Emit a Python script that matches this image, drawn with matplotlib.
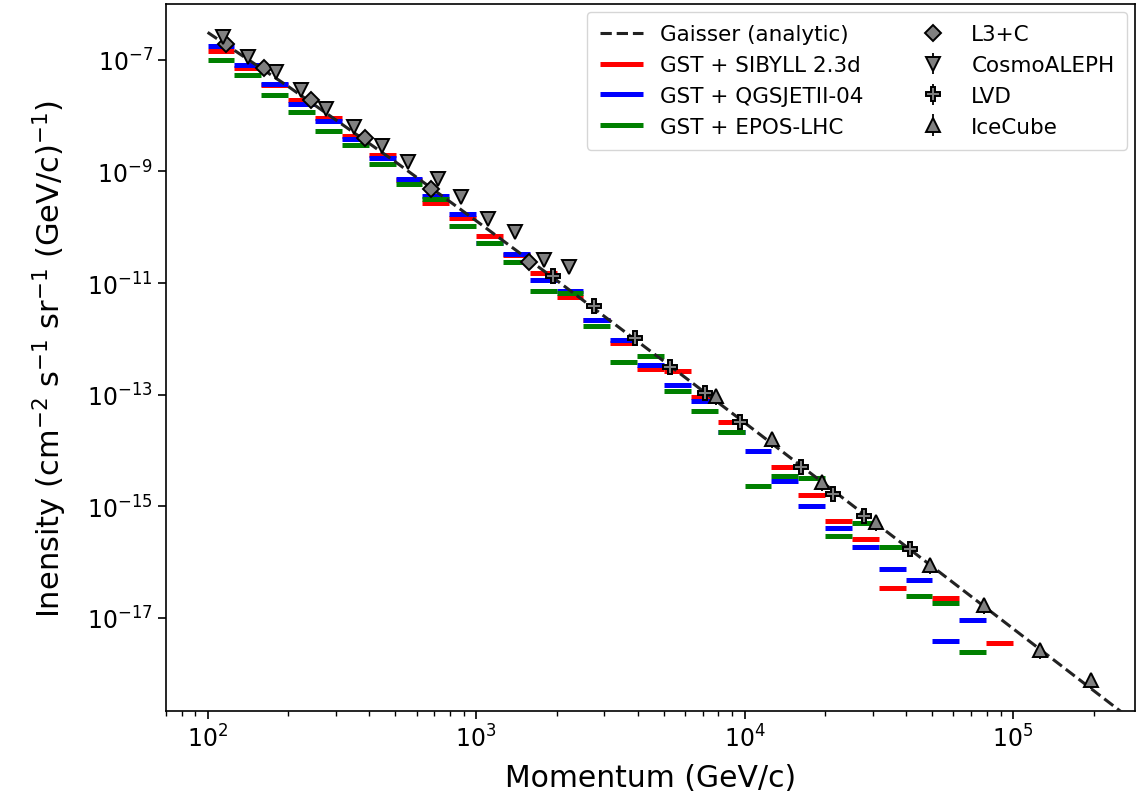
import numpy as np
import matplotlib
matplotlib.use("Agg")
import matplotlib.pyplot as plt
from matplotlib.ticker import LogLocator, NullLocator, NullFormatter

# Momentum bin edges (0.1 decade bins from 100 GeV/c to 100 TeV/c)
bin_edges = np.logspace(2, 5, 31)

# Simulated intensities per bin, cm^-2 s^-1 sr^-1 (GeV/c)^-1 (nan = no entry)
sibyll = [1.45e-7, 7.19e-8, 3.56e-8, 1.92e-8, 9.14e-9, 4.35e-9, 1.98e-9, 7.07e-10,
          2.74e-10, 1.47e-10, 7.01e-11, 3.20e-11, 1.52e-11, 5.66e-12, 2.19e-12,
          8.48e-13, 2.90e-13, 2.67e-13, 9.14e-14, 3.26e-14, np.nan, 5.08e-15,
          1.60e-15, 5.47e-16, 2.61e-16, 3.45e-17, np.nan, 2.28e-17, np.nan, 3.56e-18]
qgsjet = [1.78e-7, 8.13e-8, 3.72e-8, 1.63e-8, 8.07e-9, 3.84e-9, 1.75e-9, 7.37e-10,
          3.66e-10, 1.74e-10, 5.25e-11, 3.34e-11, 1.14e-11, 7.25e-12, 2.19e-12,
          9.59e-13, 3.42e-13, 1.50e-13, 7.74e-14, 2.15e-14, 9.84e-15, 2.85e-15,
          1.02e-15, 4.10e-16, 1.87e-16, 7.55e-17, 4.80e-17, 3.87e-18, 9.20e-18, np.nan]
epos = [1.00e-7, 5.38e-8, 2.36e-8, 1.17e-8, 5.34e-9, 3.00e-9, 1.37e-9, 6.00e-10,
        3.23e-10, 1.06e-10, 5.25e-11, 2.40e-11, 7.25e-12, 6.67e-12, 1.71e-12,
        3.87e-13, 4.95e-13, 1.17e-13, 5.13e-14, 2.15e-14, 2.32e-15, 3.51e-15,
        3.23e-15, 2.95e-16, 5.04e-16, 1.87e-16, 2.48e-17, 1.86e-17, 2.46e-18, np.nan]

# Gaisser analytic vertical muon spectrum, tabulated
gaisser_p = [1e2, 2e2, 5e2, 1e3, 2e3, 5e3, 1e4, 2e4, 5e4, 1e5, 3e5]
gaisser_i = [3.10e-7, 3.31e-8, 1.49e-9, 1.31e-10, 1.11e-11, 3.99e-13, 3.16e-14,
             2.46e-15, 8.36e-17, 6.46e-18, 1.11e-19]

# Measurements
l3c_p = [117, 162, 242, 387, 677, 1570]
l3c_i = [1.94e-7, 7.19e-8, 1.92e-8, 4.00e-9, 4.88e-10, 2.40e-11]

aleph_p = [114, 141, 180, 222, 277, 350, 445, 557, 720, 878, 1110, 1400, 1790, 2210]
aleph_i = [2.58e-7, 1.13e-7, 6.10e-8, 2.90e-8, 1.32e-8, 6.30e-9, 2.88e-9, 1.49e-9,
           7.36e-10, 3.51e-10, 1.42e-10, 8.28e-11, 2.61e-11, 1.95e-11]

lvd_p = [1928, 2741, 3894, 5297, 7155, 9662, 16300, 21440, 27980, 41500]
lvd_i = [1.35e-11, 3.90e-12, 1.04e-12, 3.15e-13, 1.08e-13, 3.26e-14, 5.08e-15,
         1.67e-15, 6.73e-16, 1.73e-16]

icecube_p = [7800, 12700, 19500, 31000, 49300, 78300, 125600, 194600]
icecube_i = [9.50e-14, 1.61e-14, 2.73e-15, 5.25e-16, 8.91e-17, 1.71e-17,
             2.67e-18, 7.74e-19]

plt.rcParams["font.family"] = ["DejaVu Sans"]

fig = plt.figure(figsize=(11.42, 8.03), dpi=100)
ax = fig.add_axes([0.1454, 0.1133, 0.8485, 0.8805])
ax.set_xscale("log")
ax.set_yscale("log")

ax.plot(gaisser_p, gaisser_i, ls="--", color="#222222", lw=2.2, zorder=3,
        label="Gaisser (analytic)")

lo, hi = bin_edges[:-1], bin_edges[1:]
for vals, col, lab in [(sibyll, "red", "GST + SIBYLL 2.3d"),
                       (qgsjet, "blue", "GST + QGSJETII-04"),
                       (epos, "green", "GST + EPOS-LHC")]:
    v = np.asarray(vals, dtype=float)
    ok = np.isfinite(v)
    ax.hlines(v[ok], lo[ok], hi[ok], colors=col, lw=3.6, zorder=2, label=lab)

mk = dict(ls="none", mfc="gray", mec="black", mew=1.4, zorder=4)
eb = dict(ecolor="black", elinewidth=1.3, capsize=0)
ax.plot(l3c_p, l3c_i, marker="D", ms=8, label="L3+C", **mk)
ax.errorbar(aleph_p, aleph_i, yerr=0.25 * np.asarray(aleph_i), marker="v", ms=10,
            label="CosmoALEPH", **mk, **eb)
ax.errorbar(lvd_p, lvd_i, yerr=0.2 * np.asarray(lvd_i), marker="P", ms=10,
            label="LVD", **mk, **eb)
ax.errorbar(icecube_p, icecube_i, yerr=0.3 * np.asarray(icecube_i), marker="^", ms=10,
            label="IceCube", **mk, **eb)

ax.set_xlim(70, 2.85e5)
ax.set_ylim(2.15e-19, 1e-6)

ax.set_yticks([10.0 ** e for e in range(-17, -6, 2)])
ax.yaxis.set_minor_locator(NullLocator())
ax.xaxis.set_major_locator(LogLocator(base=10, numticks=10))
ax.xaxis.set_minor_locator(LogLocator(base=10, subs=np.arange(2, 10), numticks=20))
ax.xaxis.set_minor_formatter(NullFormatter())

ax.tick_params(which="major", labelsize=17, length=6, width=1.2)
ax.tick_params(which="minor", length=3.5, width=1.0)
for s in ax.spines.values():
    s.set_linewidth(1.2)

ax.set_xlabel("Momentum (GeV/c)", fontsize=21.5, labelpad=8)
ax.set_ylabel(r"Inensity (cm$^{-2}$ s$^{-1}$ sr$^{-1}$ (GeV/c)$^{-1}$)", fontsize=22,
              labelpad=13)

ax.legend(loc="upper right", ncol=2, fontsize=15.5, handlelength=2.0,
          columnspacing=2.2, borderpad=0.6, labelspacing=0.5,
          bbox_to_anchor=(1.0, 1.0), borderaxespad=0.35)

fig.savefig("out.png", dpi=100)
